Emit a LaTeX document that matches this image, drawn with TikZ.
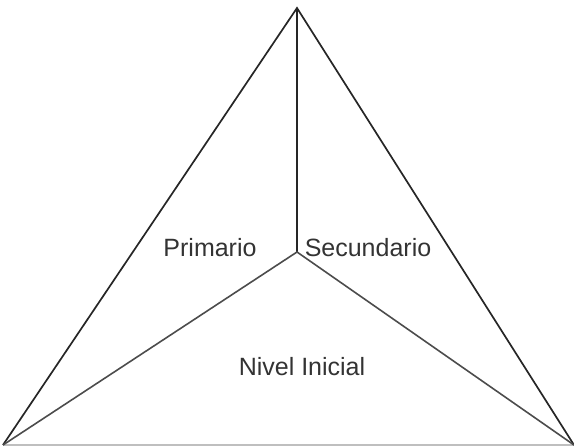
\documentclass[tikz,border=0pt]{standalone}
\usepackage{fontspec}
\setmainfont{Liberation Sans}
\usetikzlibrary{calc}
\tikzset{
    edgeline/.style={draw=black!85, line width=1.7pt},
    innerline/.style={draw=black!70, line width=1.6pt},
    baseline/.style={draw=black!25, line width=1.6pt},
    levellabel/.style={font=\fontsize{25}{29}\selectfont, text=black!80, anchor=base}
}
\begin{document}
\begin{tikzpicture}[x=1pt, y=-1pt]
        \useasboundingbox (0,0) rectangle (574,446);
        % corners and centre of the triangle
        \coordinate (Top)    at (297, 8);
        \coordinate (Left)   at (3, 445);
        \coordinate (Right)  at (574, 445);
        \coordinate (Centre) at (297, 252);

        \draw[baseline] (Left) -- (Right);
        \draw[edgeline] (Left) -- (Top) -- (Right);
        \draw[edgeline] (Centre) -- (Top);
        \draw[innerline] (Left) -- (Centre) -- (Right);

        \node[levellabel] (primario)   at (210, 257) {Primario};
        \node[levellabel] (secundario) at (368, 257) {Secundario};
        \node[levellabel] (inicial)    at (302, 376) {Nivel Inicial};
    \end{tikzpicture}
\end{document}
